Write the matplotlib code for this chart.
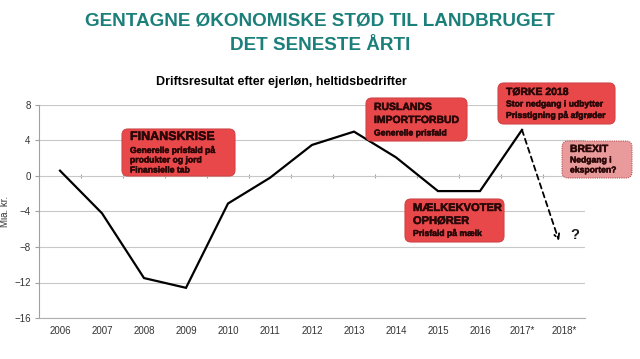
"""Driftsresultat efter ejerløn, heltidsbedrifter - recreated chart."""

import matplotlib
matplotlib.use('Agg')
import matplotlib.pyplot as plt
import matplotlib.patheffects as pe
from matplotlib.patches import FancyBboxPatch

plt.rcParams['font.family'] = ['Liberation Sans', 'DejaVu Sans']

# Data
years = ['2006', '2007', '2008', '2009', '2010', '2011', '2012',
         '2013', '2014', '2015', '2016', '2017*', '2018*']
result = [0.6, -4.2, -11.5, -12.6, -3.1, -0.2, 3.5, 5.0, 2.1, -1.7, -1.7, 5.2]
forecast_2018 = -7.3
y_ticks = [8, 4, 0, -4, -8, -12, -16]

# Annotation boxes: (headline lines, detail lines)
boxes = {
    'finans': (['FINANSKRISE'], ['Generelle prisfald på', 'produkter og jord', 'Finansielle tab']),
    'rusland': (['RUSLANDS', 'IMPORTFORBUD'], ['Generelle prisfald']),
    'maelk': (['MÆLKEKVOTER', 'OPHØRER'], ['Prisfald på mælk']),
    'toerke': (['TØRKE 2018'], ['Stor nedgang i udbytter', 'Prisstigning på afgrøder']),
    'brexit': (['BREXIT'], ['Nedgang i', 'eksporten?']),
}

W, H = 640, 359
fig = plt.figure(figsize=(W / 100, H / 100), dpi=100)
fig.patch.set_facecolor('white')

ax = fig.add_axes([39 / W, 1 - 318 / H, (585 - 39) / W, (318 - 105) / H])
x = list(range(len(result)))
ax.plot(x, result, color='black', lw=1.6, solid_joinstyle='miter', zorder=3)

# dashed projection for 2018
x_end = len(years) - 1 - 0.12
ax.annotate('', xy=(x_end, forecast_2018), xytext=(x[-1], result[-1]),
            arrowprops=dict(arrowstyle='->', color='black', lw=1.3,
                            linestyle=(0, (3, 2.2)), shrinkA=0, shrinkB=0,
                            mutation_scale=9), zorder=3)
ax.text(len(years) - 1 + 0.25, forecast_2018 + 0.6, '?', fontsize=10.5,
        fontweight='bold', color='#1a1a1a', ha='center', va='center')

ax.set_xlim(-0.5, len(years) - 0.5)
ax.set_ylim(-16, 8)
ax.set_yticks(y_ticks)
ax.set_xticks(range(len(years)))
ax.set_xticklabels(years)
ax.tick_params(axis='x', length=0, pad=6, labelsize=7, labelcolor='#333333')
ax.tick_params(axis='y', length=3, color='#a0a0a0', pad=3, labelsize=7,
               labelcolor='#333333')
ax.grid(axis='y', color='#c8c8c8', lw=0.8)
ax.set_axisbelow(True)
for side in ['top', 'right']:
    ax.spines[side].set_visible(False)
ax.spines['left'].set_color('#a0a0a0')
ax.spines['bottom'].set_color('#b0b0b0')
ax.set_ylabel('Mia. kr.', fontsize=7, color='#333333', labelpad=3)

# small category-boundary ticks along the zero line
sec = ax.secondary_xaxis(16 / 24)
sec.set_xticks([i + 0.5 for i in range(len(years) - 1)])
sec.set_xticklabels([])
sec.tick_params(length=2.5, direction='inout', color='#a0a0a0')
sec.spines['bottom'].set_visible(False)
sec.spines['top'].set_visible(False)

# titles
teal = '#1b7f7a'
fig.text(320 / W, 1 - 21 / H, 'GENTAGNE ØKONOMISKE STØD TIL LANDBRUGET',
         ha='center', va='center', fontsize=13.6, fontweight='bold', color=teal)
fig.text(320 / W, 1 - 45 / H, 'DET SENESTE ÅRTI',
         ha='center', va='center', fontsize=13.6, fontweight='bold', color=teal)
fig.text(281 / W, 1 - 82 / H, 'Driftsresultat efter ejerløn, heltidsbedrifter',
         ha='center', va='center', fontsize=9, fontweight='bold', color='black')

heavy = [pe.withStroke(linewidth=0.35, foreground='#2a0808')]


def draw_box(key, x0, y0, x1, y1, line_y, fill, edge, ls='-', head_size=7.5):
    """Draw a rounded annotation box given pixel coordinates (top-left origin)."""
    heads, details = boxes[key]
    patch = FancyBboxPatch((x0 / 100, (H - y1) / 100), (x1 - x0) / 100, (y1 - y0) / 100,
                           boxstyle='round,pad=0,rounding_size=0.06',
                           transform=fig.dpi_scale_trans, facecolor=fill,
                           edgecolor=edge, lw=0.8, linestyle=ls, zorder=5)
    fig.patches.append(patch)
    lines = [(t, head_size) for t in heads] + [(t, 6.2) for t in details]
    for (txt, size), yy in zip(lines, line_y):
        fig.text((x0 + 8) / W, 1 - yy / H, txt, ha='left', va='center',
                 fontsize=size, fontweight='bold', color='#2a0808', zorder=6,
                 path_effects=heavy)


red, red_edge = '#e8484a', '#d04446'
draw_box('finans', 122, 129, 235, 176, [137, 150, 160, 170], red, red_edge, head_size=9)
draw_box('rusland', 366, 98, 467, 141, [107, 120, 133], red, red_edge)
draw_box('maelk', 405, 199, 504, 242, [208, 221, 233], red, red_edge, head_size=8)
draw_box('toerke', 498, 83, 615, 124, [92, 104, 115], red, red_edge)
draw_box('brexit', 562, 141, 632, 178, [149, 160, 170], '#e99a9b', '#b8585a',
         ls=(0, (1, 1)))

fig.savefig('out.png', dpi=100, facecolor='white')
